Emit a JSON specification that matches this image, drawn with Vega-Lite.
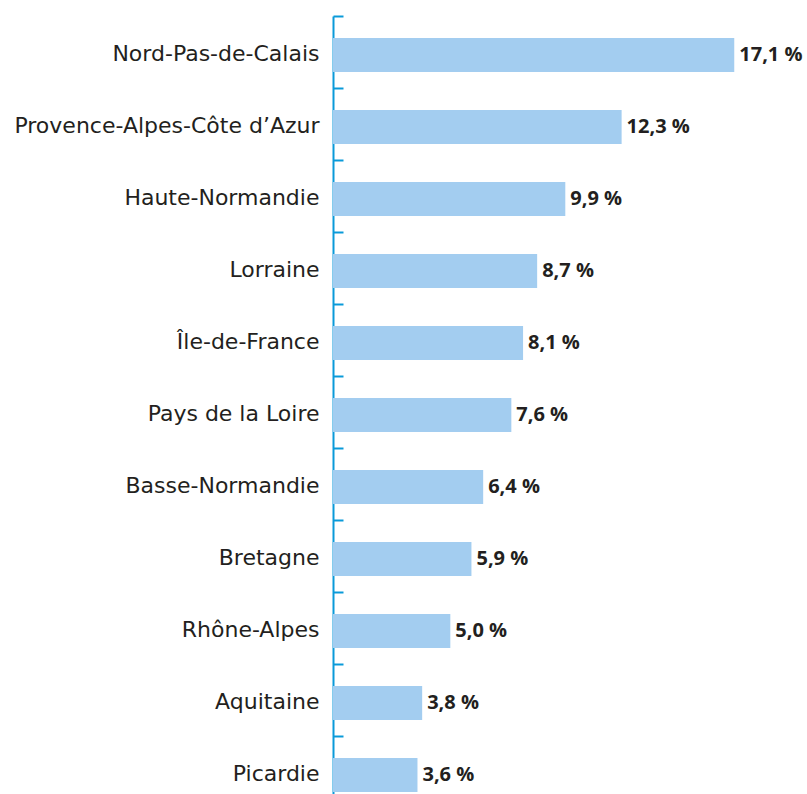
{
  "$schema": "https://vega.github.io/schema/vega-lite/v6.json",
  "autosize": {"type": "none"},
  "padding": {"left": 333, "top": 16, "right": 0, "bottom": 0},
  "width": 474,
  "height": 792,
  "background": "white",
  "data": {"values": [
    {"region": "Nord-Pas-de-Calais", "value": 17.1, "label": "17,1 %"},
    {"region": "Provence-Alpes-Côte d’Azur", "value": 12.3, "label": "12,3 %"},
    {"region": "Haute-Normandie", "value": 9.9, "label": "9,9 %"},
    {"region": "Lorraine", "value": 8.7, "label": "8,7 %"},
    {"region": "Île-de-France", "value": 8.1, "label": "8,1 %"},
    {"region": "Pays de la Loire", "value": 7.6, "label": "7,6 %"},
    {"region": "Basse-Normandie", "value": 6.4, "label": "6,4 %"},
    {"region": "Bretagne", "value": 5.9, "label": "5,9 %"},
    {"region": "Rhône-Alpes", "value": 5.0, "label": "5,0 %"},
    {"region": "Aquitaine", "value": 3.8, "label": "3,8 %"},
    {"region": "Picardie", "value": 3.6, "label": "3,6 %"}
  ]},
  "config": {"view": {"stroke": null}, "font": "DejaVu Sans"},
  "encoding": {
    "y": {
      "field": "region", "type": "nominal", "sort": null,
      "scale": {"paddingInner": 0, "paddingOuter": 0},
      "axis": {
        "title": null,
        "domainColor": "#0a9ad9", "domainWidth": 2,
        "tickColor": "#0a9ad9", "tickWidth": 2, "tickSize": -10,
        "bandPosition": 0,
        "labelFont": "DejaVu Sans", "labelFontSize": 22, "labelColor": "#231f20",
        "labelPadding": 24, "labelOffset": 2, "labelLimit": 400
      }
    },
    "x": {
      "field": "value", "type": "quantitative",
      "scale": {"domain": [0, 20.2], "nice": false},
      "axis": null
    }
  },
  "layer": [
    {"mark": {"type": "bar", "color": "#a3cdf0", "height": 34, "yOffset": 3}},
    {"mark": {"type": "text", "align": "left", "baseline": "middle", "dx": 5, "yOffset": 3, "fontWeight": "bold", "fontSize": 20, "color": "#231f20", "font": "Open Sans"},
     "encoding": {"text": {"field": "label"}}}
  ]
}
